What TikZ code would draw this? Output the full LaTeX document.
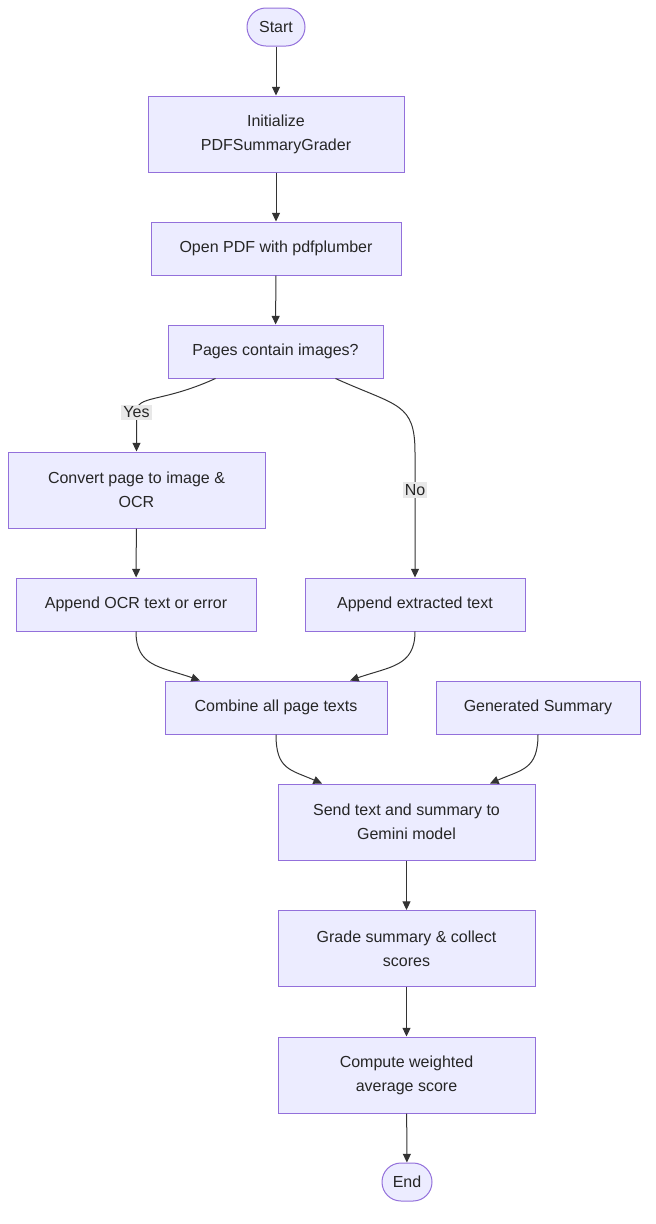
\documentclass[tikz,border=0pt]{standalone}
\usepackage{fontspec}
\setmainfont{Liberation Sans}
\usetikzlibrary{arrows.meta}
\definecolor{boxfill}{HTML}{ECECFF}
\definecolor{boxline}{HTML}{9370DB}
\definecolor{edgeline}{HTML}{333333}
\definecolor{lblfill}{HTML}{E8E8E8}
\begin{document}
\begin{tikzpicture}[x=0.75pt, y=-0.75pt,
    every node/.style={font=\fontsize{12}{18}\selectfont, text=black!85, align=center},
    box/.style={draw=boxline, fill=boxfill, line width=0.75pt, inner sep=0pt},
    pill/.style={box, rounded corners=14.2pt, minimum height=28.5pt},
    arr/.style={draw=edgeline, line width=0.75pt, -{Triangle[length=6.5pt, width=6pt]}},
    lbl/.style={fill=lblfill, inner sep=1.5pt}]
        \useasboundingbox (0, 0) rectangle (656, 1224);
        \node [pill, minimum width=43.5pt] (start) at (276, 27) {Start};
        \node [box, minimum width=192pt, minimum height=57pt] (init) at (276, 134) {Initialize\\PDFSummaryGrader};
        \node [box, minimum width=187.5pt, minimum height=39.75pt] (open) at (276, 248.5) {Open PDF with pdfplumber};
        \node [box, minimum width=161.25pt, minimum height=39.75pt] (pages) at (275.5, 351.5) {Pages contain images?};
        \node [box, minimum width=192.75pt, minimum height=57pt] (convert) at (136.5, 490) {Convert page to image \&\\OCR};
        \node [box, minimum width=180pt, minimum height=39.75pt] (appocr) at (136, 604.5) {Append OCR text or error};
        \node [box, minimum width=165pt, minimum height=39.75pt] (appext) at (415, 604.5) {Append extracted text};
        \node [box, minimum width=166.5pt, minimum height=39.75pt] (combine) at (276, 707.5) {Combine all page texts};
        \node [box, minimum width=153pt, minimum height=39.75pt] (summary) at (538, 707.5) {Generated Summary};
        \node [box, minimum width=192.75pt, minimum height=57pt] (send) at (406.5, 822) {Send text and summary to\\Gemini model};
        \node [box, minimum width=192.75pt, minimum height=57pt] (grade) at (406.5, 948.5) {Grade summary \& collect\\scores};
        \node [box, minimum width=192.75pt, minimum height=57pt] (compute) at (406.5, 1075) {Compute weighted\\average score};
        \node [pill, minimum width=37.5pt] (end) at (407, 1182) {End};
        \draw [arr] (start) -- (init);
        \draw [arr] (init) -- (open);
        \draw [arr] (open) -- (pages);
        \draw [arr] ([shift={(-60, 0)}]pages.south) .. controls +(-55, 25) and +(0, -18) .. ([shift={(0, -39)}]convert.north) node [lbl] {Yes} -- (convert.north);
        \draw [arr] ([shift={(60, 0)}]pages.south) .. controls +(62, 28) and +(0, -50) .. ([shift={(0, -125)}]appext.north) -- node [lbl, pos=0.3] {No} (appext.north);
        \draw [arr] (convert) -- (appocr);
        \draw [arr] (appocr.south) .. controls +(0, 35) and +(-40, -14) .. ([shift={(-76, 0)}]combine.north);
        \draw [arr] (appext.south) .. controls +(0, 35) and +(40, -14) .. ([shift={(74, 0)}]combine.north);
        \draw [arr] (combine.south) .. controls +(0, 35) and +(-32, -14) .. ([shift={(-84.5, 0)}]send.north);
        \draw [arr] (summary.south) .. controls +(0, 35) and +(32, -14) .. ([shift={(83.5, 0)}]send.north);
        \draw [arr] (send) -- (grade);
        \draw [arr] (grade) -- (compute);
        \draw [arr] (compute) -- (end);
      \end{tikzpicture}
\end{document}
